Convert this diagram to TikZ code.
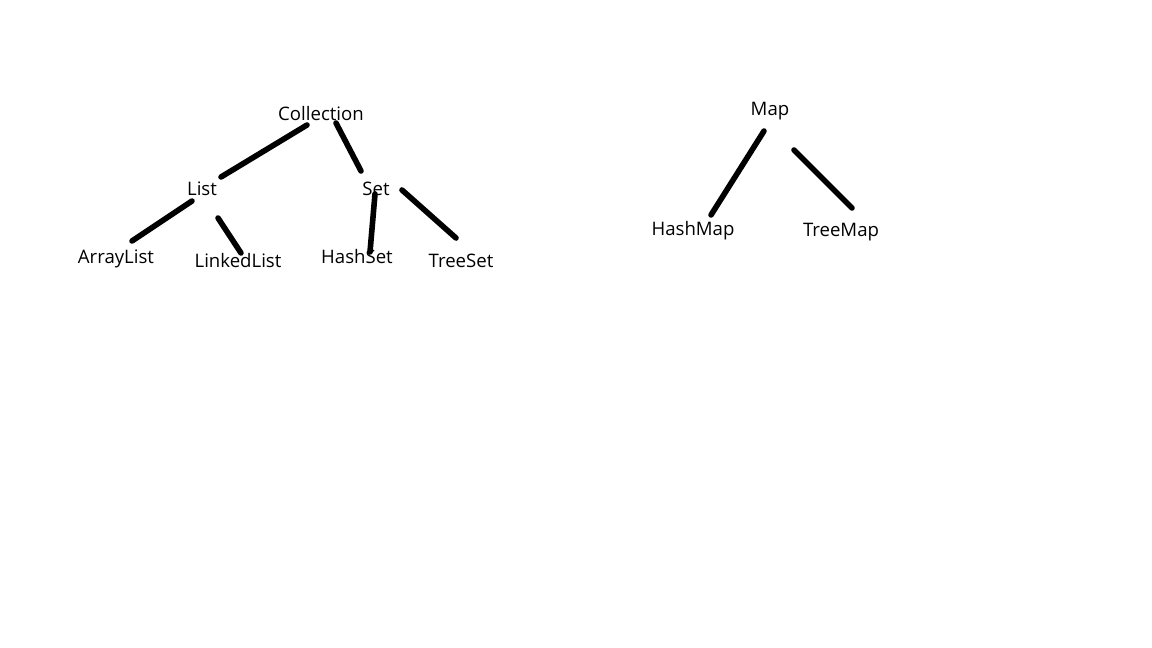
\documentclass[tikz,border=0pt]{standalone}
\usepackage{fontspec}
\setmainfont{Open Sans}
\usepackage{tikz}
\usetikzlibrary{positioning}

\begin{document}
\begin{tikzpicture}[x=0.5pt,y=-0.5pt,
  lbl/.style={font=\fontsize{9.3}{10}\selectfont, inner sep=0pt},
  edge/.style={black, line width=2.8pt, line cap=round}]
\useasboundingbox (0,0) rectangle (1152,648);
\node[lbl] (coll) at (321,114) {Collection};
\node[lbl] (list) at (202,189) {List};
\node[lbl] (set) at (376,189) {Set};
\node[lbl] (alist) at (116,259) {ArrayList};
\node[lbl] (llist) at (238,261) {LinkedList};
\node[lbl] (hset) at (357,257) {HashSet};
\node[lbl] (tset) at (461,261) {TreeSet};
\node[lbl] (map) at (770,111) {Map};
\node[lbl] (hmap) at (693,231) {HashMap};
\node[lbl] (tmap) at (841,232) {TreeMap};
\coordinate (a1) at (307,125); \coordinate (a2) at (221,177);
\coordinate (b1) at (336,123); \coordinate (b2) at (361,171);
\coordinate (c1) at (192,201); \coordinate (c2) at (132,241);
\coordinate (d1) at (218,218); \coordinate (d2) at (241,253);
\coordinate (e1) at (375,194); \coordinate (e2) at (370,252);
\coordinate (f1) at (402,190); \coordinate (f2) at (456,238);
\coordinate (g1) at (764,131); \coordinate (g2) at (711,215);
\coordinate (h1) at (794,150); \coordinate (h2) at (852,208);
\draw[edge] (a1) -- (a2);
\draw[edge] (b1) -- (b2);
\draw[edge] (c1) -- (c2);
\draw[edge] (d1) -- (d2);
\draw[edge] (e1) -- (e2);
\draw[edge] (f1) -- (f2);
\draw[edge] (g1) -- (g2);
\draw[edge] (h1) -- (h2);
\end{tikzpicture}
\end{document}
